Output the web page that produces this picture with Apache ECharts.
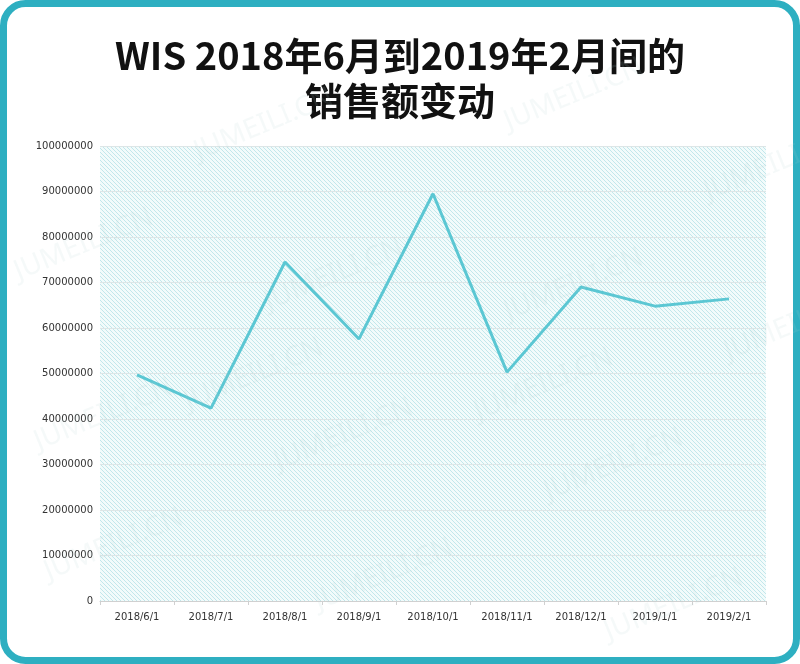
<!DOCTYPE html>
<html>
<head>
<meta charset="utf-8">
<script src="https://cdn.jsdelivr.net/npm/echarts@6/dist/echarts.min.js"></script>
<style>
html,body{margin:0;padding:0;background:#fff;}
#c{width:800px;height:664px;}
</style>
</head>
<body>
<div id="c"></div>
<script>
const categories = ['2018/6/1','2018/7/1','2018/8/1','2018/9/1','2018/10/1','2018/11/1','2018/12/1','2019/1/1','2019/2/1'];
const sales = [49700000, 42400000, 74500000, 57600000, 89500000, 50300000, 69000000, 64800000, 66400000];
const titleLines = ['WIS 2018年6月到2019年2月间的', '销售额变动'];

// hatch pattern
const pc = document.createElement('canvas');
pc.width = 4; pc.height = 4;
const pctx = pc.getContext('2d');
pctx.fillStyle = '#f2fbfb';
pctx.fillRect(0,0,4,4);
pctx.strokeStyle = '#c2e7eb';
pctx.lineWidth = 1;
pctx.beginPath();
pctx.moveTo(-1,-1); pctx.lineTo(5,5);
pctx.moveTo(-1,3); pctx.lineTo(1,5);
pctx.moveTo(3,-1); pctx.lineTo(5,1);
pctx.stroke();

const chart = echarts.init(document.getElementById('c'), null, {renderer:'canvas'});

const wm = [];
const wmPos = [[190,140],[500,110],[10,260],[260,290],[500,300],[30,430],[270,450],[540,480],[40,560],[310,590],[600,620],[180,390],[470,400],[700,180],[720,340]];
wmPos.forEach(p => wm.push({
  type:'text', x:p[0], y:p[1], rotation: Math.PI/8, z:100, silent:true,
  style:{text:'JUMEILI.CN', fill:'rgba(180,205,210,0.13)', font:'28px "Noto Sans"'}
}));

chart.setOption({
  backgroundColor:'#fff',
  animation:false,
  title:{
    text: titleLines.join('\n'),
    left:'center', top:28,
    textStyle:{fontFamily:'"Noto Sans CJK SC"', fontWeight:'bold', fontSize:38, color:'#111', lineHeight:45}
  },
  graphic:[{
    type:'rect', z:-10, silent:true,
    shape:{x:3.5,y:3.5,width:793,height:657,r:22},
    style:{fill:'#fff', stroke:'#2eafc1', lineWidth:7}
  }].concat(wm),
  grid:{
    left:100, right:34, top:146, bottom:63,
    show:true, borderWidth:0,
    backgroundColor:{image: pc, repeat:'repeat'}
  },
  xAxis:{
    type:'category', data:categories, boundaryGap:true,
    axisLine:{lineStyle:{color:'#d0d0d0'}},
    axisTick:{show:true, length:4, lineStyle:{color:'#d0d0d0'}},
    axisLabel:{color:'#333', fontSize:10, margin:11, fontFamily:'"DejaVu Sans"'}
  },
  yAxis:{
    type:'value', min:0, max:100000000, interval:10000000,
    axisLine:{show:false}, axisTick:{show:false},
    axisLabel:{color:'#333', fontSize:10, margin:7, fontFamily:'"DejaVu Sans"', formatter: v => String(v)},
    splitLine:{lineStyle:{color:'#dde6e7', width:1}}
  },
  series:[{
    type:'line', data:sales, symbol:'none',
    lineStyle:{color:'#5bc7d3', width:3},
    z:5
  }]
});
</script>
</body>
</html>
